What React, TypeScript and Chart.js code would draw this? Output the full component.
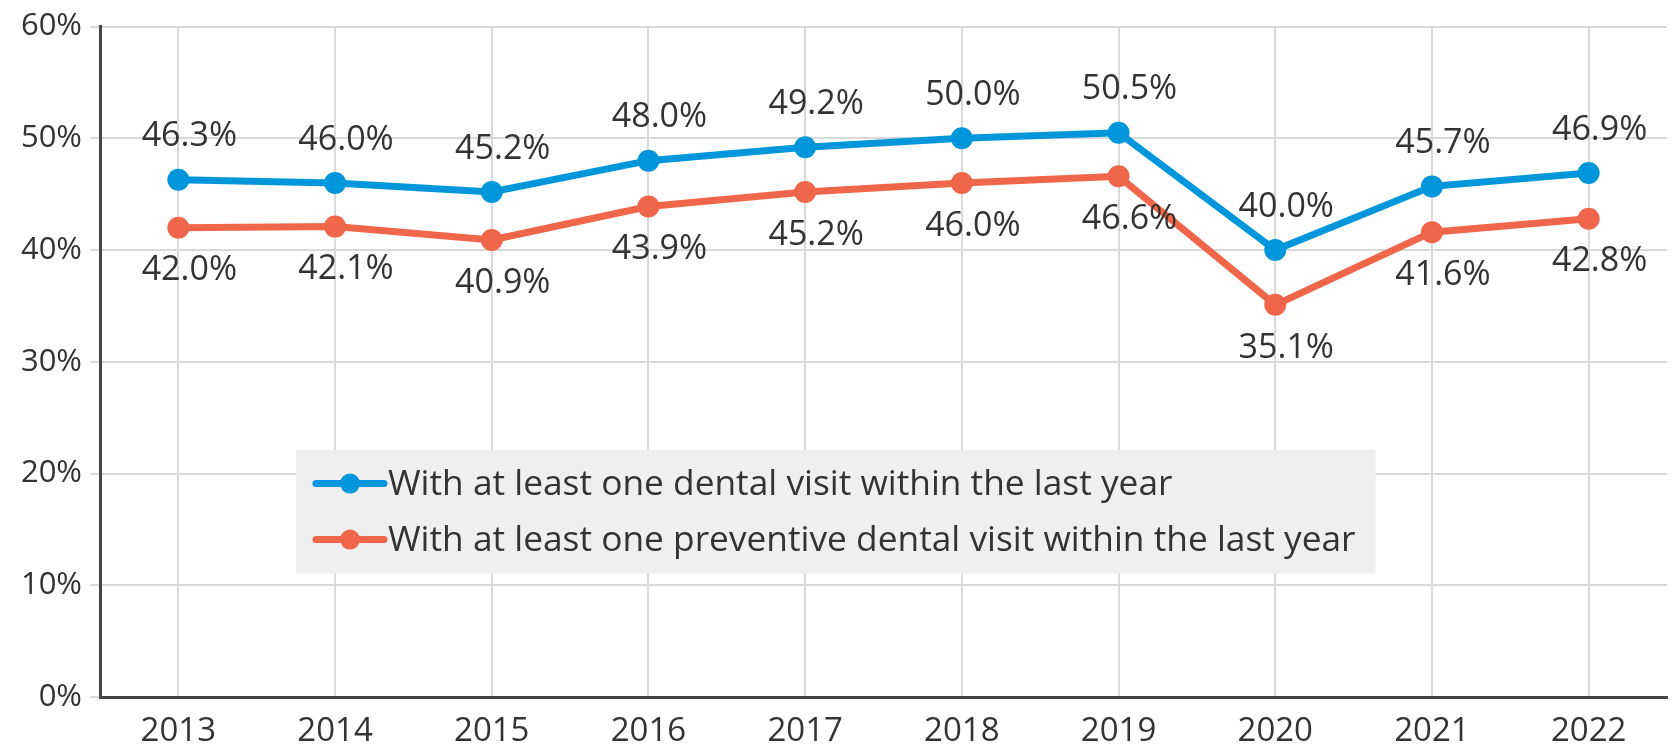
import React, { useEffect, useRef } from 'react';
import { Chart, registerables } from 'chart.js';

Chart.register(...registerables);

const years = ['2013', '2014', '2015', '2016', '2017', '2018', '2019', '2020', '2021', '2022'];
const anyDentalVisit = [46.3, 46.0, 45.2, 48.0, 49.2, 50.0, 50.5, 40.0, 45.7, 46.9];
const preventiveDentalVisit = [42.0, 42.1, 40.9, 43.9, 45.2, 46.0, 46.6, 35.1, 41.6, 42.8];
const seriesNames = [
  'With at least one dental visit within the last year',
  'With at least one preventive dental visit within the last year',
];
const yMin = 0;
const yMax = 60;
const yStep = 10;

const BLUE = '#0096db';
const ORANGE = '#f0664a';
const TEXT = '#333333';
const GRID = '#d9d9d9';
const AXIS = '#454545';
const FONT = '"Open Sans", Lato, sans-serif';

const dataLabelPlugin = {
  id: 'dataLabelPlugin',
  afterDatasetsDraw(chart: any) {
    const ctx = chart.ctx;
    ctx.save();
    ctx.font = `34px ${FONT}`;
    ctx.fillStyle = TEXT;
    ctx.textAlign = 'center';
    ctx.textBaseline = 'middle';
    chart.data.datasets.forEach((ds: any, i: number) => {
      const meta = chart.getDatasetMeta(i);
      meta.data.forEach((pt: any, j: number) => {
        const v = ds.data[j];
        const dy = i === 0 ? -43 : 43;
        ctx.fillText(v.toFixed(1) + '%', pt.x + 11, pt.y + dy);
      });
    });
    ctx.restore();
  },
};

const legendBoxPlugin = {
  id: 'legendBoxPlugin',
  beforeDatasetsDraw(chart: any) {
    const ctx = chart.ctx;
    const area = chart.chartArea;
    ctx.save();
    ctx.font = `35.3px ${FONT}`;
    const left = area.left + 196;
    const top = area.top + 423;
    const textX = left + 92;
    let maxW = 0;
    seriesNames.forEach((n) => {
      maxW = Math.max(maxW, ctx.measureText(n).width);
    });
    const width = textX - left + maxW + 20;
    const height = 124;
    ctx.fillStyle = '#efefef';
    ctx.fillRect(left, top, width, height);
    const colors = [BLUE, ORANGE];
    seriesNames.forEach((n, i) => {
      const cy = top + 34 + i * 56;
      ctx.strokeStyle = colors[i];
      ctx.lineWidth = 7;
      ctx.lineCap = 'round';
      ctx.beginPath();
      ctx.moveTo(left + 20, cy);
      ctx.lineTo(left + 88, cy);
      ctx.stroke();
      ctx.fillStyle = colors[i];
      ctx.beginPath();
      ctx.arc(left + 54, cy, 10, 0, Math.PI * 2);
      ctx.fill();
      ctx.fillStyle = TEXT;
      ctx.textAlign = 'left';
      ctx.textBaseline = 'middle';
      ctx.fillText(n, textX, cy + 1);
    });
    ctx.restore();
  },
};

export default function App() {
  const canvasRef = useRef<HTMLCanvasElement | null>(null);

  useEffect(() => {
    const canvas = canvasRef.current;
    if (!canvas) return;
    const chart = new Chart(canvas, {
      type: 'line',
      data: {
        labels: years,
        datasets: [
          {
            label: seriesNames[0],
            data: anyDentalVisit,
            borderColor: BLUE,
            backgroundColor: BLUE,
            borderWidth: 7,
            pointRadius: 11,
            pointBorderWidth: 0,
            pointBackgroundColor: BLUE,
            tension: 0,
          },
          {
            label: seriesNames[1],
            data: preventiveDentalVisit,
            borderColor: ORANGE,
            backgroundColor: ORANGE,
            borderWidth: 7,
            pointRadius: 11,
            pointBorderWidth: 0,
            pointBackgroundColor: ORANGE,
            tension: 0,
          },
        ],
      },
      options: {
        responsive: false,
        animation: false,
        layout: { padding: { top: 23, right: 3, left: 0, bottom: 0 } },
        plugins: {
          legend: { display: false },
          tooltip: { enabled: false },
        },
        scales: {
          x: {
            offset: true,
            grid: { color: GRID, lineWidth: 2, drawTicks: false, offset: false },
            border: { color: AXIS, width: 3 },
            ticks: { color: TEXT, font: { family: FONT, size: 33 }, padding: 15 },
            afterFit(scale: any) {
              scale.height = 51;
            },
          },
          y: {
            min: yMin,
            max: yMax,
            grid: { color: GRID, lineWidth: 2, tickLength: 10, tickColor: GRID },
            border: { color: AXIS, width: 3 },
            ticks: {
              stepSize: yStep,
              color: TEXT,
              font: { family: FONT, size: 31 },
              padding: 8,
              callback: (v: any) => v + '%',
            },
            afterFit(scale: any) {
              scale.width = 100;
            },
          },
        },
      },
      plugins: [legendBoxPlugin, dataLabelPlugin],
    });
    return () => chart.destroy();
  }, []);

  return (
    <div style={{ position: 'fixed', left: 0, top: 0, width: 1678, height: 748, background: '#fff' }}>
      <canvas ref={canvasRef} width={1678} height={748} style={{ display: 'block' }} />
    </div>
  );
}
